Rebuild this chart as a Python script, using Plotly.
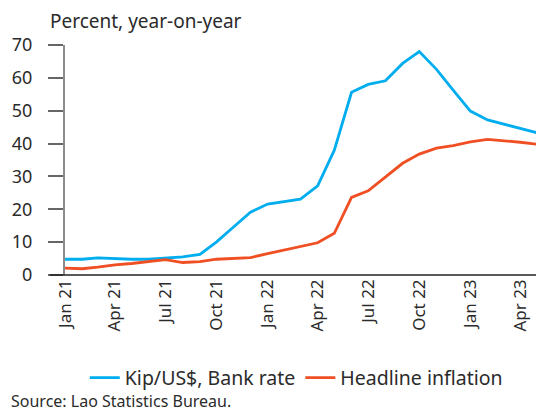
import plotly.graph_objects as go
import pandas as pd

months = pd.date_range("2021-01-01", "2023-05-01", freq="MS")

kip_usd = [4.8, 4.8, 5.2, 4.9, 4.8, 4.8, 5.1, 5.5, 6.3, 10.1, 14.7, 19.1, 21.6, 22.5, 23.1,
           27.1, 38.0, 55.6, 58.0, 59.1, 64.4, 68.0, 62.6, 56.3, 49.9, 47.2, 46.0, 44.6, 43.3]
headline = [2.1, 1.9, 2.4, 3.1, 3.5, 4.0, 4.7, 3.8, 4.1, 4.8, 5.1, 5.3, 6.5, 7.6, 8.6,
            9.8, 12.7, 23.6, 25.6, 29.9, 34.0, 36.8, 38.6, 39.4, 40.5, 41.3, 40.9, 40.4, 39.8]

tick_dates = pd.date_range("2021-01-01", "2023-04-01", freq="3MS")
tick_text = ["Jan 21", "Apr 21", "Jul 21", "Oct 21", "Jan 22",
             "Apr 22", "Jul 22", "Oct 22", "Jan 23", "Apr 23"]

font = "Noto Sans"
text_col = "#2b2b2b"

fig = go.Figure()
fig.add_trace(go.Scatter(x=months, y=kip_usd, mode="lines", name="Kip/US$, Bank rate",
                         line=dict(color="#00ADEF", width=2.8)))
fig.add_trace(go.Scatter(x=months, y=headline, mode="lines", name="Headline inflation",
                         line=dict(color="#F04E23", width=2.8)))

# page body has an 8px margin, so the figure is drawn 8px in from the corner
fig.update_layout(
    width=536, height=404,
    margin=dict(l=57, r=7, t=37, b=137, autoexpand=False),
    paper_bgcolor="white", plot_bgcolor="white",
    font=dict(family=font, size=17, color=text_col),
    showlegend=True,
    legend=dict(orientation="h", x=0.49, xanchor="center",
                y=-0.448, yanchor="middle", font=dict(size=19.5),
                itemwidth=30, traceorder="normal"),
    xaxis=dict(range=[months[0], months[-1]], tickvals=tick_dates, ticktext=tick_text,
               tickangle=-90, showgrid=False, zeroline=False, showline=False,
               ticks="", tickfont=dict(size=17), automargin=False),
    yaxis=dict(range=[0, 70], dtick=10, showgrid=False, zeroline=False,
               showline=True, linecolor="#8c8c8c", linewidth=2,
               ticks="outside", ticklen=15, tickcolor="#666666", tickwidth=1.5,
               ticklabelstandoff=12, tickfont=dict(size=18), automargin=False),
    shapes=[dict(type="line", xref="paper", yref="paper", x0=-0.032, x1=1.02, y0=0, y1=0,
                 line=dict(color="#222222", width=1.5))],
    annotations=[
        dict(text="Percent, year-on-year", xref="paper", yref="paper", x=-0.036, y=1.104,
             xanchor="left", yanchor="middle", showarrow=False, font=dict(size=19)),
        dict(text="Source: Lao Statistics Bureau.", xref="paper", yref="paper", x=-0.119,
             y=-0.546, xanchor="left", yanchor="middle", showarrow=False,
             font=dict(size=16)),
    ],
)

fig.write_html("out.html")
